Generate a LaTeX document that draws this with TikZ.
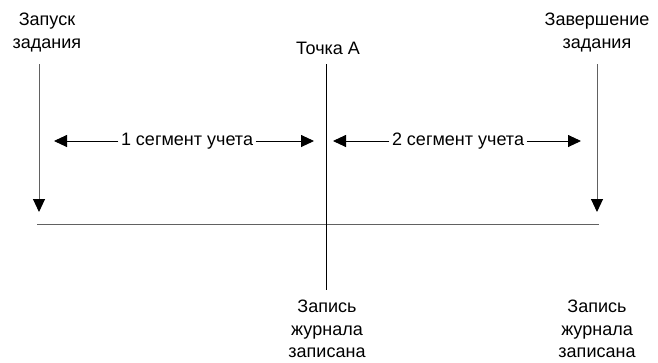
\documentclass[tikz,border=0pt]{standalone}
\usepackage{fontspec}
\setmainfont{Liberation Sans}
\usetikzlibrary{arrows.meta}
\begin{document}
\begin{tikzpicture}[x=1pt,y=-1pt,
  lbl/.style={align=center,inner sep=0pt,font=\fontsize{18}{22.5}\selectfont},
  seg/.style={inner sep=2.5pt,font=\fontsize{18}{20}\selectfont},
  tip/.style={-{Triangle[length=13pt,width=12pt,color=black]}},
  greyline/.style={draw=black!62,line width=1pt},
  blackline/.style={draw=black,line width=0.9pt}]
\useasboundingbox (0,0) rectangle (658,362);
% top labels
\node[lbl,anchor=north] (start) at (47,13) {Запуск\\задания};
\node[lbl] (pointA) at (328,48) {Точка A};
\node[lbl,anchor=north] (finish) at (597,13) {Завершение\\задания};
% end points of the vertical lines
\coordinate (sTop) at (39,64);
\coordinate (sBot) at (39,212);
\coordinate (fTop) at (597,64);
\coordinate (fBot) at (597,212);
\coordinate (aTop) at (326,64);
\coordinate (aBot) at (326,290);
\coordinate (baseL) at (37,224);
\coordinate (baseR) at (599,224);
% time axis and markers
\draw[greyline] (baseL) -- (baseR);
\draw[greyline,tip] (sTop) -- (sBot);
\draw[greyline,tip] (fTop) -- (fBot);
\draw[blackline] (aTop) -- (aBot);
% accounting segments
\node[seg] (seg1) at (187,141) {1 сегмент учета};
\node[seg] (seg2) at (458,141) {2 сегмент учета};
\coordinate (s1L) at (54,141);
\coordinate (s1R) at (314,141);
\coordinate (s2L) at (333,141);
\coordinate (s2R) at (581,141);
\draw[blackline,tip] (seg1.west) -- (s1L);
\draw[blackline,tip] (seg1.east) -- (s1R);
\draw[blackline,tip] (seg2.west) -- (s2L);
\draw[blackline,tip] (seg2.east) -- (s2R);
% bottom labels
\node[lbl,anchor=south] (logA) at (327,358) {Запись\\журнала\\записана};
\node[lbl,anchor=south] (logEnd) at (597,358) {Запись\\журнала\\записана};
\end{tikzpicture}
\end{document}
